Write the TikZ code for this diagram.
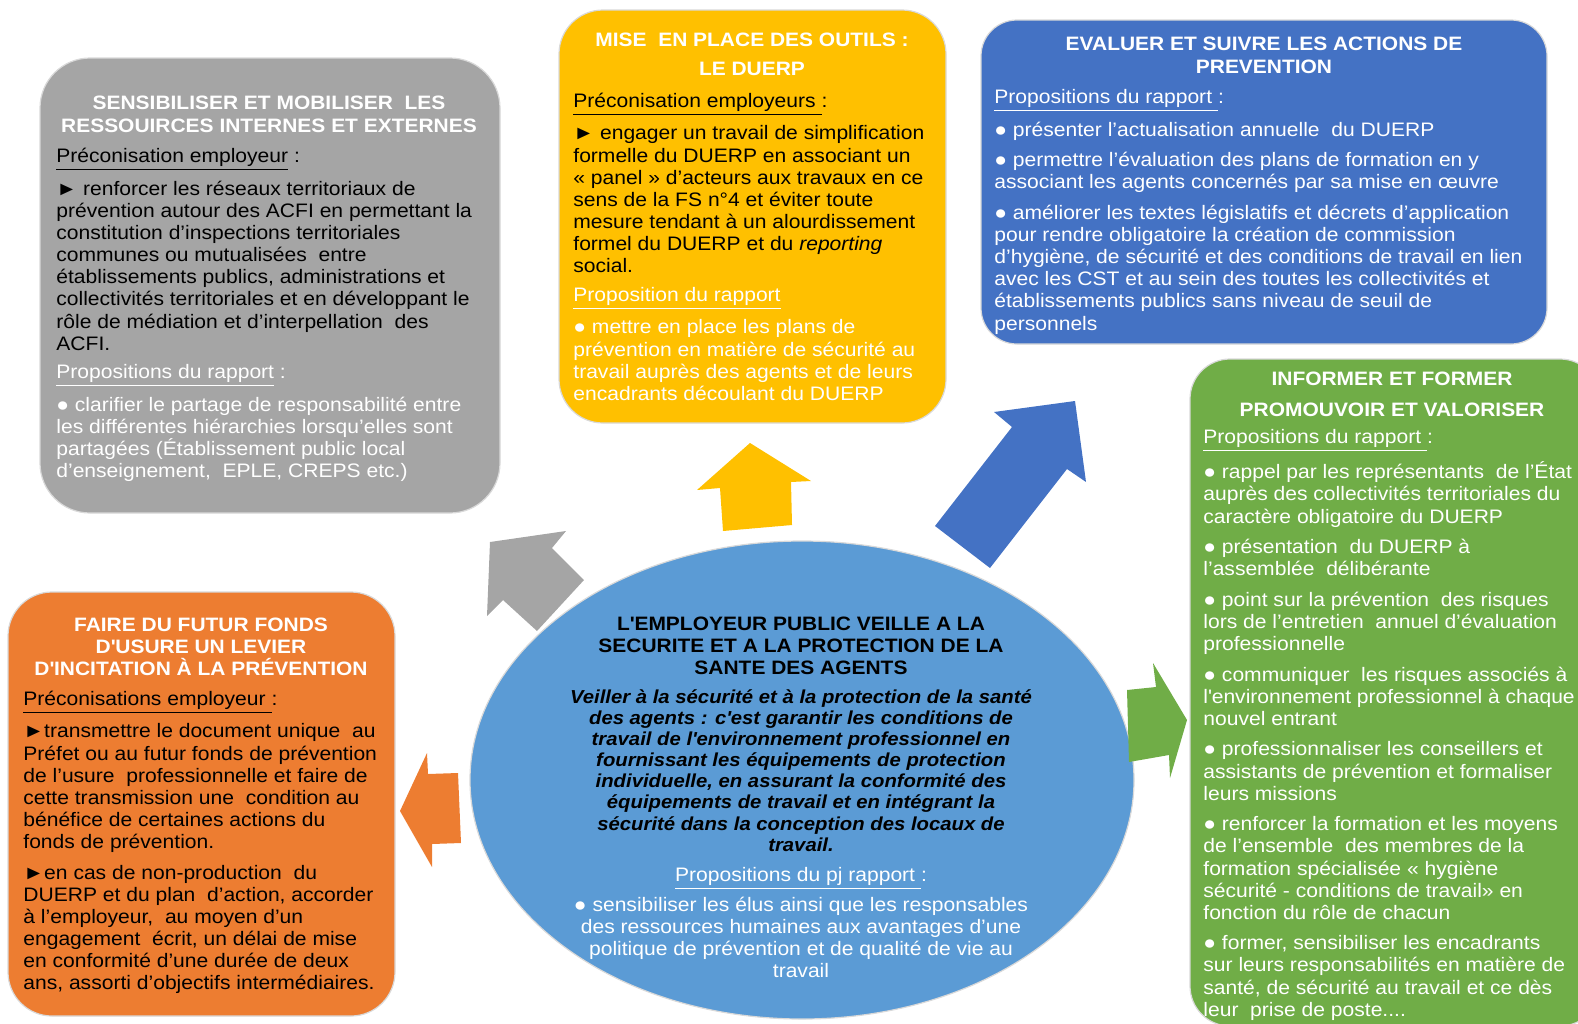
\documentclass[tikz,border=0pt]{standalone}
\usepackage{fontspec}
\setmainfont{Liberation Sans}[FakeStretch=1.08]
\usetikzlibrary{positioning}
\usetikzlibrary{shapes.geometric}
\definecolor{graybox}{HTML}{A5A5A5}
\definecolor{goldbox}{HTML}{FFC000}
\definecolor{bluebox}{HTML}{4472C4}
\definecolor{greenbox}{HTML}{70AD47}
\definecolor{orangebox}{HTML}{ED7D31}
\definecolor{centreblue}{HTML}{5B9BD5}
\definecolor{rim}{HTML}{D9D9D9}
\newcommand{\hd}[1]{\underline{#1}}
\newcommand{\fl}{\rule{0pt}{10pt}}
\newcommand{\sq}{\textquotesingle}
\tikzset{
  % a rounded panel for one theme
  panel/.style={draw=rim, line width=0.6pt, fill=#1, rectangle, inner sep=0pt},
  % panel titles, the value is the line spacing
  ttl/.style={font=\bfseries\fontsize{9.7pt}{#1}\selectfont, align=center,
    anchor=north, inner sep=0pt, text=white},
  ttl/.default=11.5pt,
  % body text of a panel
  txt/.style={font=\fontsize{9.75pt}{11.07pt}\selectfont, align=left,
    anchor=north west, inner sep=0pt, text=#1},
  txt/.default=white,
  % centred text inside the ellipse
  mid/.style={font=\fontsize{9.75pt}{11.07pt}\selectfont, align=center,
    anchor=north, inner sep=0pt, text=#1},
  mid/.default=white,
  % block arrows
  blk/.style={fill=#1, draw=none},
}

\begin{document}
\begin{tikzpicture}[x=0.5pt, y=-0.5pt]

\useasboundingbox (0,0) rectangle (1578,1023);
\clip (0,0) rectangle (1578,1023);

% panels
\node[panel=graybox, rounded corners=25pt, minimum width=230pt, minimum height=227.5pt] (sens) at (270,285.5) {};
\node[panel=goldbox, rounded corners=22pt, minimum width=193.5pt, minimum height=206.5pt] (outils) at (752.5,216.5) {};
\node[panel=bluebox, rounded corners=18pt, minimum width=283pt, minimum height=162pt] (evaluer) at (1264,182) {};
\node[panel=greenbox, rounded corners=20pt, minimum width=205pt, minimum height=333.5pt] (informer) at (1395,692.5) {};
\node[panel=orangebox, rounded corners=22pt, minimum width=193.5pt, minimum height=212pt] (fonds) at (201.5,804) {};
\node[ellipse, draw=rim, line width=0.6pt, fill=centreblue, inner sep=0pt,
      minimum width=332pt, minimum height=239pt] (centre) at (802,780) {};

% block arrows from the centre
\fill[blk=graybox] (490,542) -- (566,531) -- (552,548) -- (584,580) -- (537,631) -- (503,600) -- (487,616) -- cycle;
\fill[blk=goldbox] (750,443) -- (811,481) -- (791,482) -- (792,525) -- (723,531) -- (720,488) -- (697,490) -- cycle;
\fill[blk=bluebox] (1075,401) -- (1086,482) -- (1067,469) -- (990,568) -- (935,526) -- (1012,427) -- (994,412) -- cycle;
\fill[blk=greenbox] (1153,663) -- (1187,720) -- (1170,778) -- (1169,755) -- (1129,762) -- (1127,690) -- (1156,687) -- cycle;
\fill[blk=orangebox] (400,811) -- (427,753) -- (428,774) -- (458,773) -- (461,843) -- (432,844) -- (432,867) -- cycle;

% sensibiliser
\node[ttl] (sensT) at (269,89) {\fl SENSIBILISER ET MOBILISER\ \ LES\\RESSOUIRCES INTERNES ET EXTERNES};
\node[txt=black] (sensA) at (56,142) {\fl\hd{Préconisation employeur} :\\[4.2pt]
► renforcer les réseaux territoriaux de\\
prévention autour des ACFI en permettant la\\
constitution d’inspections territoriales\\
communes ou mutualisées\ \ entre\\
établissements publics, administrations et\\
collectivités territoriales et en développant le\\
rôle de médiation et d’interpellation\ \ des\\
ACFI.};
\node[txt] (sensB) at (56,358) {\fl\hd{Propositions du rapport} :\\[4.2pt]
● clarifier le partage de responsabilité entre\\
les différentes hiérarchies lorsqu’elles sont\\
partagées (Établissement public local\\
d’enseignement,\ \ EPLE, CREPS etc.)};

% outils
\node[ttl=14.5pt] (outilsT) at (752,26) {\fl MISE\ \ EN PLACE DES OUTILS :\\LE DUERP};
\node[txt=black] (outilsA) at (573,87) {\fl\hd{Préconisation employeurs }:\\[4.2pt]
► engager un travail de simplification\\
formelle du DUERP en associant un\\
« panel » d’acteurs aux travaux en ce\\
sens de la FS n°4 et éviter toute\\
mesure tendant à un alourdissement\\
formel du DUERP et du \textit{reporting}\\
social.};
\node[txt] (outilsB) at (573,281) {\fl\hd{Proposition du rapport}\\[4.2pt]
● mettre en place les plans de\\
prévention en matière de sécurité au\\
travail auprès des agents et de leurs\\
encadrants découlant du DUERP};

% evaluer
\node[ttl] (evaluerT) at (1264,30) {\fl EVALUER ET SUIVRE LES ACTIONS DE\\PREVENTION};
\node[txt] (evaluerA) at (994,83) {\fl\hd{Propositions du rapport }:\\[4.2pt]
● présenter l’actualisation annuelle\ \ du DUERP\\[4.2pt]
● permettre l’évaluation des plans de formation en y\\
associant les agents concernés par sa mise en œuvre\\[4.2pt]
● améliorer les textes législatifs et décrets d’application\\
pour rendre obligatoire la création de commission\\
d’hygiène, de sécurité et des conditions de travail en lien\\
avec les CST et au sein des toutes les collectivités et\\
établissements publics sans niveau de seuil de\\
personnels};

% informer
\node[ttl=15.5pt] (informerT) at (1392,365) {\fl INFORMER ET FORMER\\PROMOUVOIR ET VALORISER};
\node[txt] (informerA) at (1203,423) {\fl\hd{Propositions du rapport }:\\[4.2pt]
● rappel par les représentants\ \ de l’État\\
auprès des collectivités territoriales du\\
caractère obligatoire du DUERP\\[4.2pt]
● présentation\ \ du DUERP à\\
l’assemblée\ \ délibérante\\[4.2pt]
● point sur la prévention\ \ des risques\\
lors de l’entretien\ \ annuel d’évaluation\\
professionnelle\\[4.2pt]
● communiquer\ \ les risques associés à\\
l\sq environnement professionnel à chaque\\
nouvel entrant\\[4.2pt]
● professionnaliser les conseillers et\\
assistants de prévention et formaliser\\
leurs missions\\[4.2pt]
● renforcer la formation et les moyens\\
de l’ensemble\ \ des membres de la\\
formation spécialisée « hygiène\\
sécurité - conditions de travail» en\\
fonction du rôle de chacun\\[4.2pt]
● former, sensibiliser les encadrants\\
sur leurs responsabilités en matière de\\
santé, de sécurité au travail et ce dès\\
leur\ \ prise de poste....};

% fonds
\node[ttl=11pt] (fondsT) at (201,611) {\fl FAIRE DU FUTUR FONDS\\D\sq USURE UN LEVIER\\D\sq INCITATION À LA PRÉVENTION};
\node[txt=black] (fondsA) at (23,685) {\fl\hd{Préconisations employeur }:\\[4.2pt]
►transmettre le document unique\ \ au\\
Préfet ou au futur fonds de prévention\\
de l’usure\ \ professionnelle et faire de\\
cette transmission une\ \ condition au\\
bénéfice de certaines actions du\\
fonds de prévention.\\[4.2pt]
►en cas de non-production\ \ du\\
DUERP et du plan\ \ d’action, accorder\\
à l’employeur,\ \ au moyen d’un\\
engagement\ \ écrit, un délai de mise\\
en conformité d’une durée de deux\\
ans, assorti d’objectifs intermédiaires.};

% centre
\node[ttl=11pt, text=black] (centreT) at (801,610) {\fl L\sq EMPLOYEUR PUBLIC VEILLE A LA\\SECURITE ET A LA PROTECTION DE LA\\SANTE DES AGENTS};
\node[mid=black, font=\bfseries\itshape\fontsize{9.4pt}{10.55pt}\selectfont] (centreA) at (801,683) {\fl Veiller à la sécurité et à la protection de la santé\\
des agents : c\sq est garantir les conditions de\\
travail de l\sq environnement professionnel en\\
fournissant les équipements de protection\\
individuelle, en assurant la conformité des\\
équipements de travail et en intégrant la\\
sécurité dans la conception des locaux de\\
travail.};
\node[mid] (centreB) at (801,861) {\fl\hd{Propositions du pj rapport }:};
\node[mid] (centreC) at (801,891) {\fl● sensibiliser les élus ainsi que les responsables\\
des ressources humaines aux avantages d’une\\
politique de prévention et de qualité de vie au\\
travail};

\end{tikzpicture}
\end{document}
